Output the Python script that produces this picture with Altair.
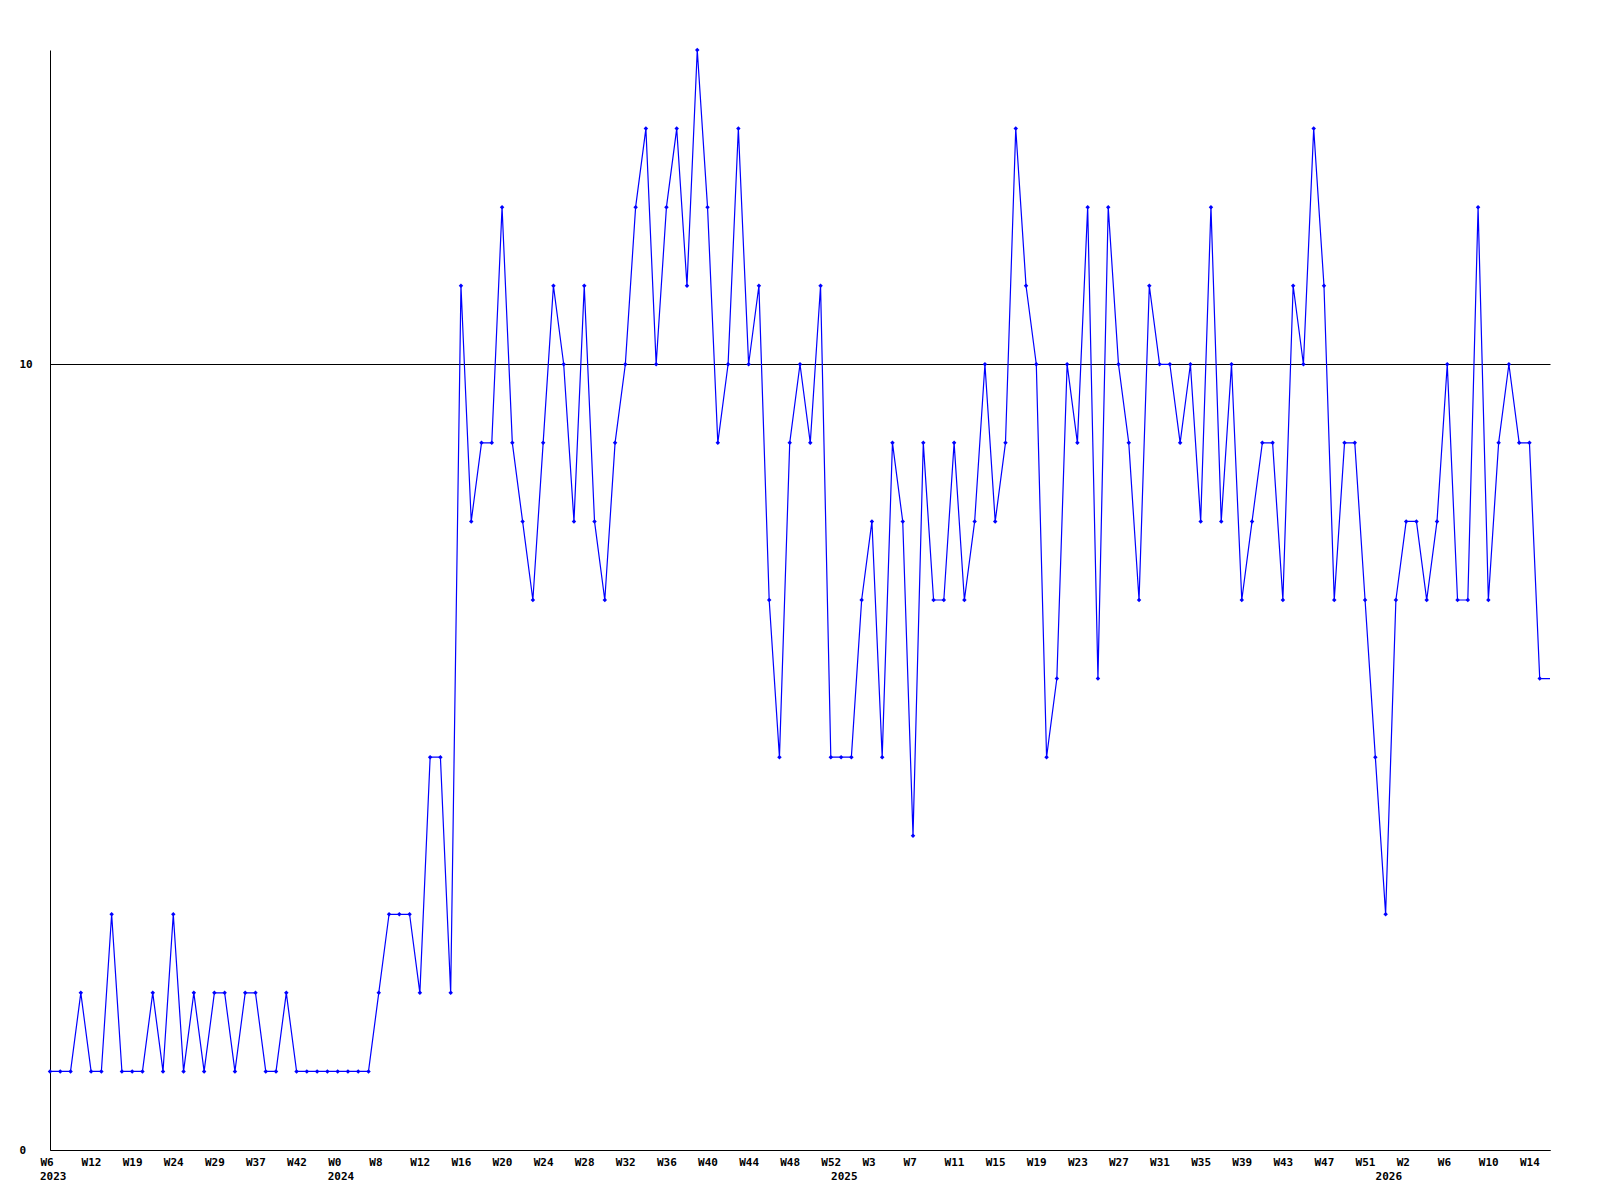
import altair as alt
import pandas as pd

# Weekly values
values = [
    1, 1, 1, 2, 1, 1, 3, 1, 1, 1, 2, 1, 3, 1, 2, 1, 2, 2, 1, 2, 2, 1, 1, 2, 1, 1,
    1, 1, 1, 1, 1, 1, 2, 3, 3, 3, 2, 5, 5, 2, 11, 8, 9, 9, 12, 9, 8, 7, 9, 11, 10,
    8, 11, 8, 7, 9, 10, 12, 13, 10, 12, 13, 11, 14, 12, 9, 10, 13, 10, 11, 7, 5, 9, 10, 9, 11, 5,
    5, 5, 7, 8, 5, 9, 8, 4, 9, 7, 7, 9, 7, 8, 10, 8, 9, 13, 11, 10, 5, 6, 10, 9, 12,
    6, 12, 10, 9, 7, 11, 10, 10, 9, 10, 8, 12, 8, 10, 7, 8, 9, 9, 7, 11, 10, 13, 11, 7, 9,
    9, 7, 5, 3, 7, 8, 8, 7, 8, 10, 7, 7, 12, 7, 9, 10, 9, 9, 6,
]

week_labels = [
    "W6", "W12", "W19", "W24", "W29", "W37", "W42",
    "W0", "W8", "W12", "W16", "W20", "W24", "W28", "W32", "W36", "W40", "W44", "W48", "W52",
    "W3", "W7", "W11", "W15", "W19", "W23", "W27", "W31", "W35", "W39", "W43", "W47", "W51",
    "W2", "W6", "W10", "W14",
]
label_step = 4

years = ["2023", "2024", "2025", "2026"]
year_index = [0, 28, 77, 130]

y_ticks = [0, 10]

n = len(values)
# line continues flat to the right edge of the axis
df_line = pd.DataFrame({"i": list(range(n + 1)), "v": values + [values[-1]]})
df_pts = pd.DataFrame({"i": list(range(n)), "v": values})
df_years = pd.DataFrame({"i": year_index, "t": years})

tick_vals = [k * label_step for k in range(len(week_labels))]
lab_map = "{" + ",".join(f"'{v}':'{t}'" for v, t in zip(tick_vals, week_labels)) + "}"

FONT = "DejaVu Sans Mono"
BLUE = "#0000ff"

x_enc = alt.X(
    "i:Q",
    scale=alt.Scale(domain=[0, n], nice=False, zero=False),
    axis=alt.Axis(
        values=tick_vals,
        labelExpr=f"{lab_map}[''+datum.value]",
        tickSize=0,
        labelAlign="left",
        labelOffset=-10,
        labelPadding=12,
        labelBaseline="middle",
        grid=False,
        domainColor="black",
        domainWidth=1,
        title=None,
        labelFont=FONT,
        labelFontWeight="bold",
        labelFontSize=11,
        labelColor="black",
        labelOverlap=False,
        labelFlush=False,
    ),
)
y_enc = alt.Y(
    "v:Q",
    scale=alt.Scale(domain=[0, 14], nice=False),
    axis=alt.Axis(
        values=y_ticks,
        tickSize=0,
        labelAlign="left",
        labelPadding=31,
        labelBaseline="middle",
        grid=True,
        gridColor="black",
        gridWidth=1,
        gridOpacity=1,
        domainColor="black",
        domainWidth=1,
        title=None,
        labelFont=FONT,
        labelFontWeight="bold",
        labelFontSize=11,
        labelColor="black",
    ),
)

line = alt.Chart(df_line).mark_line(color=BLUE, strokeWidth=1.2).encode(x=x_enc, y=y_enc)
pts = alt.Chart(df_pts).mark_point(
    shape="diamond", filled=True, size=20, color=BLUE, opacity=1
).encode(x=x_enc, y=y_enc)
yr = alt.Chart(df_years).mark_text(
    align="left", baseline="middle", dx=-10, font=FONT, fontWeight="bold", fontSize=11, color="black"
).encode(x=alt.X("i:Q"), y=alt.value(1127), text="t:N")

chart = (
    alt.layer(line, pts, yr)
    .properties(
        width=1500,
        height=1100,
        autosize=alt.AutoSizeParams(type="none"),
        padding={"left": 42, "top": 42, "right": 40, "bottom": 40},
        background="white",
    )
    .configure_view(stroke=None)
)

chart.save("out.html", embed_options={"renderer": "svg", "actions": False})
